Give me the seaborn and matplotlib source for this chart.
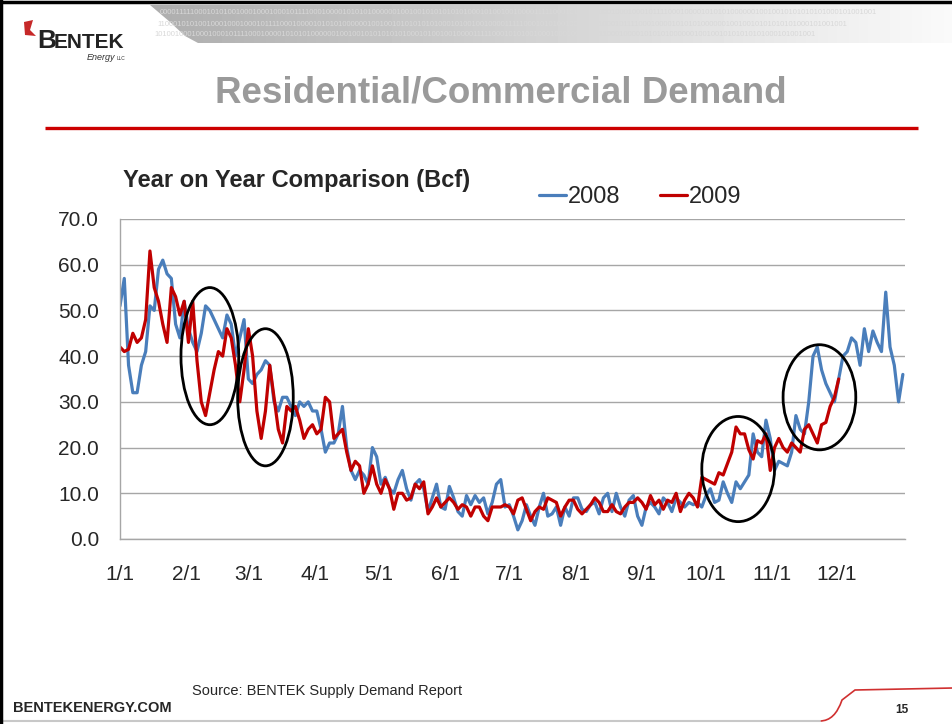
import numpy as np
import pandas as pd
import matplotlib
matplotlib.use('Agg')
import matplotlib.pyplot as plt
from matplotlib.patches import Ellipse, Polygon, PathPatch
from matplotlib.path import Path
import seaborn as sns

# Residential/commercial demand (Bcf), read every other day, x = day of year on the 2008 calendar
days_2008 = np.arange(0, 367, 2)
demand_2008 = [
    51, 57, 38, 32, 32, 38, 41, 51, 50, 59,
    61, 58, 57, 47, 44, 52, 46, 43, 41, 45,
    51, 50, 48, 46, 44, 49, 47, 40, 44, 48,
    35, 34, 36, 37, 39, 38, 30, 28, 31, 31,
    29, 27, 30, 29, 30, 28, 28, 24, 19, 21,
    21, 23, 29, 20, 15, 13, 15, 14, 12, 20,
    18, 12, 13.5, 11, 10, 13, 15, 11, 8.5, 12,
    13, 11, 6, 9, 12, 7, 6.5, 11.5, 9, 6,
    5, 9.5, 7.5, 9.5, 8, 9, 5.5, 8, 12, 13,
    7, 7.5, 5, 2, 4, 7.5, 5, 3, 7, 10,
    5, 5.5, 7, 3, 7, 5, 9, 9, 6.5, 6,
    7.5, 8, 5.5, 9, 10, 6, 10, 7, 5, 8.5,
    9.5, 5, 3, 7, 8, 7, 5.5, 9, 8, 6,
    9, 8, 7, 8, 7.5, 8, 7, 9.5, 11, 8,
    8.5, 12.5, 10, 8, 12.5, 11, 12.5, 14, 23, 19,
    18, 26, 22, 15, 17, 16.5, 16, 19, 27, 24,
    23, 30, 40, 42, 37, 34, 32, 30, 35, 40,
    41, 44, 43, 38, 46, 41, 45.5, 43, 41, 54,
    42, 38, 30, 36,
]
days_2009 = np.arange(0, 337, 2)
demand_2009 = [
    42, 41, 41.5, 45, 43, 44, 48, 63, 55, 52,
    47, 43, 55, 53, 49, 52, 43, 52, 39, 30,
    27, 32, 37, 41, 40, 46, 44, 38, 30, 37,
    46, 40, 28, 22, 28, 38, 31, 24, 21, 29,
    28, 29, 26, 22, 24, 25, 23, 24, 31, 30,
    22, 23, 24, 19, 15, 17, 16, 10, 12, 16,
    12, 10, 13, 11, 6.5, 10, 10, 8.5, 9, 12,
    11, 12.5, 5.5, 7, 9, 7, 8, 9, 8, 6.5,
    7.5, 7, 5, 7, 7, 5, 4, 7, 7, 7,
    7.5, 7, 5.5, 8.5, 9, 6.5, 4, 6, 7, 6.5,
    9, 8.5, 8, 5, 7, 8.5, 8.5, 6.5, 5.5, 6.5,
    7.5, 9, 8, 6, 6, 7.5, 6, 5.5, 7, 8,
    8, 9, 8, 6.5, 9.5, 7.5, 8.5, 6.5, 8.5, 8,
    10, 6, 8.5, 10, 9, 7, 13.5, 13, 12.5, 12,
    14.5, 14, 16.5, 19, 24.5, 23, 23, 19.5, 17.5, 21.5,
    21, 23, 15, 20, 22, 20, 19, 21, 20, 19,
    24, 25, 23, 21, 25, 25.5, 29, 31, 35,
]

month_starts = pd.date_range('2008-01-01', periods=12, freq='MS')
tick_days = (month_starts.dayofyear - 1).tolist()
tick_labels = [f'{d.month}/1' for d in month_starts]
y_ticks = list(range(0, 71, 10))

# hand-drawn circles on the slide: (day, Bcf, width in days, height in Bcf)
circles = [(42, 40, 27, 30), (68, 31, 26, 30), (289, 15.3, 34, 23), (327, 31, 34, 23)]

df = pd.concat([
    pd.DataFrame({'day': days_2008, 'bcf': demand_2008, 'year': '2008'}),
    pd.DataFrame({'day': days_2009, 'bcf': demand_2009, 'year': '2009'}),
])

sns.set_style('white')
plt.rcParams['font.family'] = ['Liberation Sans', 'DejaVu Sans']

fig = plt.figure(figsize=(9.53, 7.24), dpi=100)

# slide decorations in pixel coordinates
deco = fig.add_axes([0, 0, 1, 1], zorder=0)
deco.set_xlim(0, 953)
deco.set_ylim(724, 0)
deco.axis('off')

banner = Polygon([(150, 5), (953, 5), (953, 43), (198, 43), (185, 36), (170, 22)],
                 closed=True, facecolor='none', edgecolor='none')
deco.add_patch(banner)
grad = np.linspace(0.68, 0.98, 256).reshape(1, -1)
img = deco.imshow(grad, extent=[150, 953, 43, 5], cmap='gray', vmin=0, vmax=1, aspect='auto')
img.set_clip_path(banner)
bits = '000011111000101010010001000100010111100010000101010100000010010010101010101000101001001' * 2
for i, yy in enumerate([13, 24, 35]):
    t = deco.text(160 - i * 3, yy, bits[i * 7:], fontsize=5.5, color='#d8d8d8', va='center', clip_on=True)
    t.set_clip_path(banner)

# logo
deco.add_patch(Polygon([(24, 22), (33, 20), (30, 30), (36, 36), (25, 35)], closed=True,
                       facecolor='#c62828', edgecolor='none'))
deco.text(37, 48, 'B', fontsize=19, fontweight='bold', color='#222222', va='baseline')
deco.text(54, 48, 'ENTEK', fontsize=15, fontweight='bold', color='#222222', va='baseline')
deco.text(87, 60, 'Energy', fontsize=6.5, style='italic', color='#333333', va='baseline')
deco.text(117, 60, 'LLC', fontsize=3.5, color='#333333', va='baseline')

deco.text(501, 93, 'Residential/Commercial Demand', ha='center', va='center',
          fontsize=26.5, fontweight='bold', color='#9a9a9a')
deco.plot([45, 918], [128, 128], color='#cc0000', lw=2.4, solid_capstyle='butt')
deco.text(123, 180, 'Year on Year Comparison (Bcf)', va='center', fontsize=17, fontweight='bold')

# footer
deco.text(13, 708, 'BENTEKENERGY.COM', va='center', fontsize=10.5, fontweight='bold')
deco.text(192, 691, 'Source: BENTEK Supply Demand Report', va='center', fontsize=10.5)
deco.text(902, 710, '15', va='center', ha='center', fontsize=8.5, fontweight='bold')
deco.add_patch(PathPatch(Path([(820, 721), (835, 721), (842, 700), (855, 690), (953, 688)],
                              [Path.MOVETO, Path.CURVE3, Path.LINETO, Path.LINETO, Path.LINETO]),
                         facecolor='none', edgecolor='#d03030', lw=1.2))
deco.plot([0, 820], [721, 721], color='#c8c8c8', lw=1.5)

# frame of the screenshot
deco.plot([1.5, 1.5], [0, 724], color='black', lw=2.5)
deco.plot([0, 953], [1.5, 1.5], color='black', lw=2.5)

# chart
ax = fig.add_axes([120 / 953, 1 - 539 / 724, 785 / 953, 320 / 724], zorder=1)
ax.patch.set_alpha(0)
sns.lineplot(data=df, x='day', y='bcf', hue='year', palette={'2008': '#4a7ebb', '2009': '#c00000'},
             linewidth=2.3, errorbar=None, ax=ax)

for d, v, w, h in circles:
    ax.add_patch(Ellipse((d, v), w, h, fill=False, edgecolor='black', lw=2, zorder=5))

ax.set_xlim(0, 367)
ax.set_ylim(0, 70)
ax.set_xticks(tick_days, tick_labels)
ax.set_yticks(y_ticks, [f'{v:.1f}' for v in y_ticks])
ax.set_xlabel('')
ax.set_ylabel('')
ax.grid(axis='y', color='#a6a6a6', lw=1)
ax.grid(axis='x', visible=False)
ax.set_axisbelow(True)
for side in ['top', 'right']:
    ax.spines[side].set_visible(False)
for side in ['left', 'bottom']:
    ax.spines[side].set_color('#a6a6a6')
    ax.spines[side].set_linewidth(1)
ax.tick_params(axis='y', length=0, labelsize=15, pad=15)
ax.tick_params(axis='x', length=0, labelsize=15, pad=19)

sns.move_legend(ax, 'center', bbox_to_anchor=(640 / 953, 1 - 197 / 724), bbox_transform=fig.transFigure,
                ncol=2, frameon=False, title=None, fontsize=17, handlelength=1.15,
                handletextpad=0.05, columnspacing=1.7)

fig.savefig('out.png', dpi=100)
